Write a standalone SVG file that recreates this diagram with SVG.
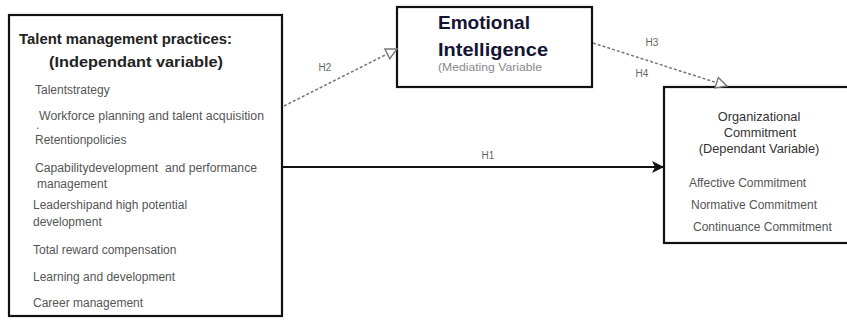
<svg xmlns="http://www.w3.org/2000/svg" width="847" height="322" viewBox="0 0 847 322">
<style>
.box{fill:#fff;stroke:#111;stroke-width:2.2}
.title{font-family:"Liberation Sans",Arial,sans-serif;font-weight:bold;fill:#222}
.item{font-family:"Liberation Sans",Arial,sans-serif;font-size:12px;fill:#555}
.oct{font-family:"Liberation Sans",Arial,sans-serif;font-size:12.8px;fill:#333}
.lbl{font-family:"Liberation Sans",Arial,sans-serif;font-size:10px;fill:#666}
.ei{font-family:"Liberation Sans",Arial,sans-serif;font-weight:bold;font-size:19px;fill:#141433}
.dash{fill:none;stroke:#777;stroke-width:1.5;stroke-dasharray:3 2}
.solid{fill:none;stroke:#111;stroke-width:2.2}
</style>
<defs>
<marker id="hollow" viewBox="0 0 12 12" refX="11" refY="6" markerWidth="13" markerHeight="13" markerUnits="userSpaceOnUse" orient="auto">
<path d="M1,1 L11,6 L1,11 z" fill="#fff" stroke="#777" stroke-width="1.3"/>
</marker>
<marker id="filled" viewBox="0 0 12 12" refX="11" refY="6" markerWidth="12" markerHeight="12" markerUnits="userSpaceOnUse" orient="auto">
<path d="M0,0 L12,6 L0,12 L3,6 z" fill="#111"/>
</marker>
</defs>
<g id="tm">
<rect class="box" x="9" y="15" width="273" height="301"/>
<text class="title" x="19" y="44" font-size="15.5" textLength="213" lengthAdjust="spacingAndGlyphs">Talent management practices:</text>
<text class="title" x="49" y="67" font-size="15.5" textLength="174" lengthAdjust="spacingAndGlyphs">(Independant variable)</text>
<text class="item" x="35" y="94">Talentstrategy</text>
<text class="item" x="39" y="120" textLength="225" lengthAdjust="spacingAndGlyphs">Workforce planning and talent acquisition</text>
<text class="item" x="36" y="129">.</text>
<text class="item" x="35" y="144">Retentionpolicies</text>
<text class="item" x="35" y="172" xml:space="preserve" textLength="222" lengthAdjust="spacingAndGlyphs">Capabilitydevelopment  and performance</text>
<text class="item" x="37" y="188">management</text>
<text class="item" x="33" y="209">Leadershipand high potential</text>
<text class="item" x="33" y="226">development</text>
<text class="item" x="33" y="254">Total reward compensation</text>
<text class="item" x="33" y="281">Learning and development</text>
<text class="item" x="33" y="307">Career management</text>
</g>
<g id="ei">
<rect class="box" x="397" y="7" width="195" height="80"/>
<text class="ei" x="438" y="29" textLength="92" lengthAdjust="spacingAndGlyphs">Emotional</text>
<text class="ei" x="438" y="56" textLength="110" lengthAdjust="spacingAndGlyphs">Intelligence</text>
<text class="lbl" x="438" y="71" textLength="104" lengthAdjust="spacingAndGlyphs" style="fill:#888">(Mediating Variable</text>
</g>
<g id="oc">
<rect class="box" x="664" y="87" width="190" height="156"/>
<text class="oct" x="759" y="121" text-anchor="middle">Organizational</text>
<text class="oct" x="760" y="137" text-anchor="middle">Commitment</text>
<text class="oct" x="759" y="153" text-anchor="middle">(Dependant Variable)</text>
<text class="item" x="689" y="187">Affective Commitment</text>
<text class="item" x="691" y="209">Normative Commitment</text>
<text class="item" x="693" y="231">Continuance Commitment</text>
</g>
<g id="connectors">
<line class="solid" x1="283" y1="167" x2="663" y2="167" marker-end="url(#filled)"/>
<line class="dash" x1="284" y1="106" x2="397" y2="49" marker-end="url(#hollow)"/>
<line class="dash" x1="593" y1="43" x2="727" y2="86" marker-end="url(#hollow)"/>
<text class="lbl" x="488" y="159" text-anchor="middle">H1</text>
<text class="lbl" x="325" y="71" text-anchor="middle">H2</text>
<text class="lbl" x="652" y="46" text-anchor="middle">H3</text>
<text class="lbl" x="642" y="77" text-anchor="middle">H4</text>
</g>
</svg>
